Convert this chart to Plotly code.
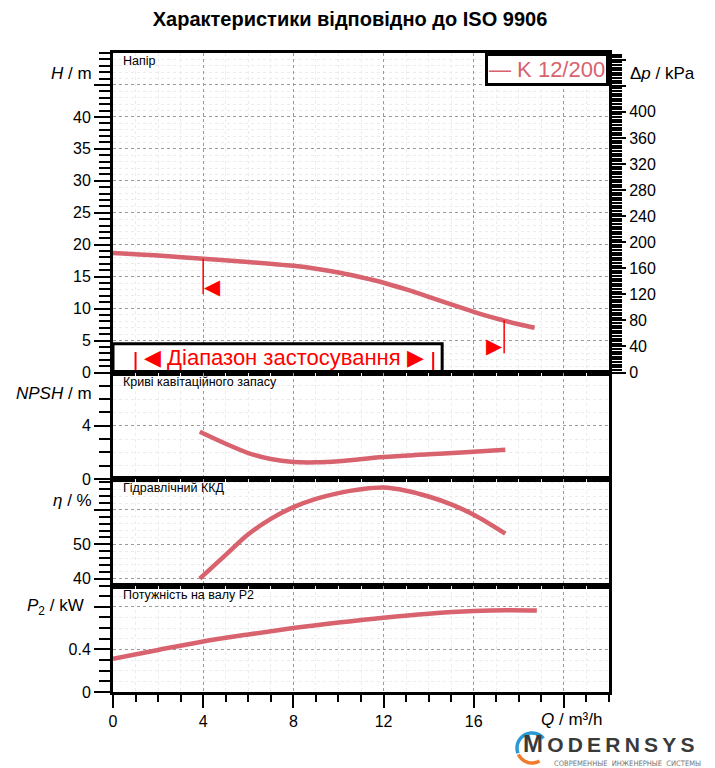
import numpy as np
import plotly.graph_objects as go
from plotly.subplots import make_subplots

# --- data ---
q_h = [0, 2, 4, 6, 8, 9, 10, 11, 12, 13, 14, 15, 16, 17, 18, 18.7]
head_m = [18.7, 18.3, 17.8, 17.3, 16.7, 16.25, 15.65, 14.9, 14.05, 13.0, 11.85, 10.65,
          9.5, 8.45, 7.55, 7.0]

q_npsh = [3.85, 5, 6, 7, 8, 9, 10, 12, 14, 16, 17.4]
npsh_m = [3.55, 2.65, 1.95, 1.5, 1.28, 1.25, 1.33, 1.65, 1.85, 2.05, 2.2]

q_eta = [3.85, 5, 6, 7, 8, 9, 10, 11, 12, 13, 14, 15, 16, 17.4]
eta_pct = [40, 46.9, 52.9, 57.4, 60.8, 63.2, 64.9, 66.0, 66.5, 65.6, 63.9, 61.6, 58.6, 53.1]

q_p2 = [0, 2, 4, 6, 8, 10, 12, 14, 16, 17.5, 18.8]
p2_kw = [0.313, 0.395, 0.474, 0.54, 0.60, 0.652, 0.698, 0.735, 0.76, 0.768, 0.765]

# limits of operating range on the head curve
limit_q = [4.0, 17.35]
limit_h_top = [17.8, 8.2]
limit_h_bottom = [12.3, 3.0]
limit_arrow_h = [13.4, 4.1]

# "application range" box
app_box_q = [0, 14.6]
app_box_h = [0, 4.5]
app_bar_q = [1.0, 14.2]

pump_name = "K 12/200"
rho_g = 9.80665  # kPa per m of water

x_ticks = [0, 4, 8, 12, 16, 20]
x_labels = ["0", "4", "8", "12", "16", ""]
h_ticks = list(range(0, 50, 5))
h_labels = [str(v) for v in h_ticks[:-1]] + [""]
dp_ticks = list(range(0, 481, 40))
dp_labels = [str(v) if v <= 400 else "" for v in dp_ticks]

CURVE = "#d8626e"
FONT = "Liberation Sans, Arial, sans-serif"
PAGE_PAD = 8  # default body margin of the html page

fig = make_subplots(rows=4, cols=1, shared_xaxes=True, vertical_spacing=0,
                    row_heights=[3, 1, 1, 1],
                    specs=[[{"secondary_y": True}], [{}], [{}], [{}]])

line = dict(color=CURVE, width=4.5, shape="spline")
fig.add_trace(go.Scatter(x=q_h, y=head_m, mode="lines", line=line, name=pump_name), row=1, col=1)
fig.add_trace(go.Scatter(x=q_h, y=[h * rho_g for h in head_m], mode="lines", opacity=0,
                         hoverinfo="skip", showlegend=False), row=1, col=1, secondary_y=True)
fig.add_trace(go.Scatter(x=q_npsh, y=npsh_m, mode="lines", line=line), row=2, col=1)
fig.add_trace(go.Scatter(x=q_eta, y=eta_pct, mode="lines", line=line), row=3, col=1)
fig.add_trace(go.Scatter(x=q_p2, y=p2_kw, mode="lines", line=line), row=4, col=1)

for q, top, bot in zip(limit_q, limit_h_top, limit_h_bottom):
    fig.add_trace(go.Scatter(x=[q, q], y=[top, bot], mode="lines",
                             line=dict(color="red", width=1.5), hoverinfo="skip"), row=1, col=1)

fig.add_annotation(x=limit_q[0], y=limit_arrow_h[0], xref="x", yref="y", text="◀",
                   showarrow=False, xanchor="left", yanchor="middle", borderpad=0,
                   font=dict(family="DejaVu Sans", size=21, color="red"))
fig.add_annotation(x=limit_q[1], y=limit_arrow_h[1], xref="x", yref="y", text="▶",
                   showarrow=False, xanchor="right", yanchor="middle", borderpad=0,
                   font=dict(family="DejaVu Sans", size=21, color="red"))

# application range box
fig.add_shape(type="rect", xref="x", yref="y", x0=app_box_q[0], x1=app_box_q[1],
              y0=app_box_h[0], y1=app_box_h[1], line=dict(color="black", width=3),
              fillcolor="white", layer="between")
for q in app_bar_q:
    fig.add_shape(type="line", xref="x", yref="y", x0=q, x1=q, y0=0.1, y1=3.2,
                  line=dict(color="red", width=2), layer="between")
fig.add_annotation(x=sum(app_bar_q) / 2, y=2.4, xref="x", yref="y",
                   text="◀ Діапазон застосування ▶", showarrow=False,
                   font=dict(family=FONT, size=22, color="red"))

# axes styling
grid_major = dict(showgrid=True, gridcolor="#9a9a9a", griddash="dot", gridwidth=1)
frame = dict(showline=True, linecolor="black", linewidth=3, mirror=True, zeroline=False)
tickfont = dict(family=FONT, size=16, color="black")

for r in (1, 2, 3, 4):
    fig.update_xaxes(row=r, col=1, domain=[0, 1], range=[0, 22], tickmode="array",
                     tickvals=x_ticks, ticktext=x_labels, tickfont=tickfont,
                     minor=dict(tickmode="linear", tick0=0, dtick=1, showgrid=True,
                                gridcolor="#ececec", gridwidth=1,
                                ticks="outside" if r == 4 else "", ticklen=7,
                                tickwidth=2, tickcolor="black"),
                     ticks="outside" if r == 4 else "", ticklen=13, tickwidth=2,
                     tickcolor="black", showticklabels=(r == 4), **grid_major, **frame)

def y_style(rng, tickvals, ticktext, minor_dtick):
    return dict(range=rng, tickmode="array", tickvals=tickvals, ticktext=ticktext,
                ticks="outside", ticklen=16, tickwidth=2, tickcolor="black", tickfont=tickfont,
                minor=dict(tickmode="linear", tick0=0, dtick=minor_dtick, showgrid=True,
                           gridcolor="#ececec", gridwidth=1, ticks="outside", ticklen=11,
                           tickwidth=2, tickcolor="black"),
                **grid_major, **frame)

fig.update_yaxes(row=1, col=1, secondary_y=False, **y_style([0, 50], h_ticks, h_labels, 1))
fig.update_yaxes(row=2, col=1, **y_style([0, 8], [0, 4, 8], ["0", "4", ""], 1))
fig.update_yaxes(row=3, col=1, **y_style([38, 69], [40, 50, 60], ["40", "50", ""], 2))
fig.update_yaxes(row=4, col=1, **y_style([0, 1.0], [0, 0.4, 0.8], ["0", "0.4", ""], 0.1))
fig.update_yaxes(row=1, col=1, secondary_y=True, range=[0, 50 * rho_g], tickmode="array",
                 tickvals=dp_ticks, ticktext=dp_labels, ticks="outside", ticklen=14,
                 tickwidth=2, tickcolor="black", tickfont=tickfont, showgrid=False,
                 zeroline=False, showline=True, linecolor="black", linewidth=3,
                 minor=dict(tickmode="linear", tick0=0, dtick=4, ticks="outside",
                            ticklen=10, tickwidth=2, tickcolor="black", showgrid=False))

# axis titles and panel captions (positions given in window pixels)
def px_x(px):
    return (px - 113) / 496

def px_y(py):
    return (692 - py) / 639

axis_titles = [
    ("<i>H</i> / m", 94, 73, "right"),
    ("Δ<i>p</i> / kPa", 628, 73, "left"),
    ("<i>NPSH</i> / m", 94, 393, "right"),
    ("<i>η</i> / %", 94, 500, "right"),
    ("<i>P</i><sub>2</sub> / kW", 86, 607, "right"),
    ("<i>Q</i> / m³/h", 539, 719, "left"),
]
for text, px, py, anchor in axis_titles:
    fig.add_annotation(x=px_x(px), y=px_y(py), xref="paper", yref="paper", text=text,
                       showarrow=False, xanchor=anchor, yanchor="middle",
                       font=dict(family=FONT, size=17, color="black"))

panel_titles = [("Напір", 61), ("Криві кавітаційного запасу", 382),
                ("Гідравлічний ККД", 488), ("Потужність на валу P2", 595)]
for text, py in panel_titles:
    fig.add_annotation(x=px_x(121), y=px_y(py), xref="paper", yref="paper", text=text,
                       showarrow=False, xanchor="left", yanchor="middle",
                       font=dict(family=FONT, size=12.5, color="black"))

# legend box
fig.add_annotation(x=1, y=1, xref="paper", yref="paper", text="— " + pump_name,
                   showarrow=False, xanchor="right", yanchor="top", bgcolor="white",
                   bordercolor="black", borderwidth=3, borderpad=1,
                   font=dict(family=FONT, size=22, color=CURVE))

# logo
logo_word = "\u2009".join("ODERNSYS")
fig.add_annotation(x=px_x(522), y=px_y(758), xref="paper", yref="paper",
                   text="<b><span style='font-size:24px'>M</span>\u2009" + logo_word + "</b>",
                   showarrow=False, xanchor="left", yanchor="bottom", borderpad=0,
                   font=dict(family=FONT, size=21, color="#3a3a3a"))
fig.add_annotation(x=px_x(553), y=px_y(758), xref="paper", yref="paper",
                   text="СОВРЕМЕННЫЕ  ИНЖЕНЕРНЫЕ  СИСТЕМЫ", showarrow=False,
                   xanchor="left", yanchor="top", borderpad=0,
                   font=dict(family="DejaVu Sans Condensed, sans-serif", size=7.5, color="#777777"))

def arc_path(cx, cy, r, a0, a1, n=24):
    pts = []
    for a in np.linspace(np.radians(a0), np.radians(a1), n):
        pts.append((px_x(cx + r * np.cos(a)), px_y(cy - r * np.sin(a))))
    return "M " + " L ".join(f"{x:.5f},{y:.5f}" for x, y in pts)

fig.add_shape(type="path", xref="paper", yref="paper", path=arc_path(532, 748, 15, 40, 200),
              line=dict(color="#2a9ad6", width=3.5))
fig.add_shape(type="path", xref="paper", yref="paper", path=arc_path(532, 748, 15, 205, 300),
              line=dict(color="#f07b2a", width=3.5))

W, H = 715 - PAGE_PAD, 768 - PAGE_PAD
fig.update_layout(
    width=W, height=H,
    margin=dict(l=113 - PAGE_PAD, r=106, t=53 - PAGE_PAD, b=76),
    paper_bgcolor="white", plot_bgcolor="white",
    showlegend=False,
    title=dict(text="<b>Характеристики відповідно до ISO 9906</b>",
               x=(350 - PAGE_PAD) / W, xanchor="center",
               y=1 - (19 - PAGE_PAD) / H, yanchor="middle",
               font=dict(family=FONT, size=20, color="black")),
    font=dict(family=FONT, color="black"),
)

fig.write_html("out.html")
